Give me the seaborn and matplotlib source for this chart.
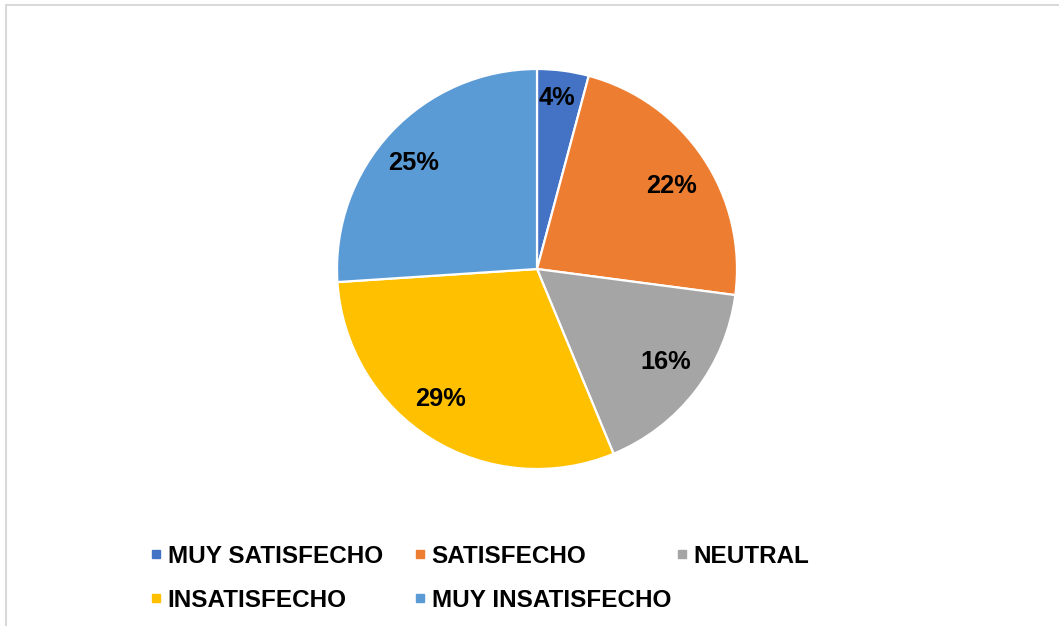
import numpy as np
import matplotlib
matplotlib.use("Agg")
import matplotlib.pyplot as plt
from matplotlib.lines import Line2D
import seaborn as sns

categories = ["MUY SATISFECHO", "SATISFECHO", "NEUTRAL", "INSATISFECHO", "MUY INSATISFECHO"]
percentages = [4, 22, 16, 29, 25]
colors = ["#4472C4", "#ED7D31", "#A5A5A5", "#FFC000", "#5B9BD5"]

sns.set_theme(style="white")
plt.rcParams["font.family"] = ["Liberation Sans", "DejaVu Sans"]
plt.rcParams["text.color"] = "black"

W, H = 1059, 626
fig = plt.figure(figsize=(W / 100, H / 100), dpi=100)
fig.patch.set_facecolor("white")

# pie area: centre (537, 269) px, radius 200 px
cx, cy, r = 537, 269, 200
ax = fig.add_axes([(cx - r) / W, (H - cy - r) / H, 2 * r / W, 2 * r / H])

wedges, _ = ax.pie(
    percentages,
    colors=colors,
    startangle=90,
    counterclock=False,
    radius=1.0,
    wedgeprops=dict(edgecolor="white", linewidth=1.6),
)
ax.set_xlim(-1, 1)
ax.set_ylim(-1, 1)
ax.set_aspect("equal")
ax.axis("off")

# percentage labels inside each slice (best-fit placement around mid-angle)
dists = [0.86, 0.79, 0.795, 0.81, 0.815]
shifts = [1.0, -2.0, 1.7, -4.5, 2.6]  # degrees, counter-clockwise
for w, p, d, s in zip(wedges, percentages, dists, shifts):
    ang = np.deg2rad((w.theta1 + w.theta2) / 2 + s)
    ax.text(d * np.cos(ang), d * np.sin(ang), f"{p}%",
            ha="center", va="center", fontsize=18.3, fontweight="bold", color="black")

# legend: one column per group of entries
handles = [Line2D([0], [0], marker="s", linestyle="none", markersize=5.8,
                  markerfacecolor=c, markeredgecolor=c) for c in colors]
columns = [[0, 3], [1, 4], [2]]
col_left = [152, 416, 678]
fs = 17.5
fs_px = fs * 100 / 72
for idx, x0 in zip(columns, col_left):
    leg = fig.legend([handles[i] for i in idx], [categories[i] for i in idx],
                     loc="upper left", bbox_to_anchor=(x0 / W, 1 - 545 / H),
                     frameon=False, prop=dict(size=fs, weight="bold"),
                     handlelength=8.5 / fs_px, handletextpad=7 / fs_px,
                     labelspacing=0.85, borderaxespad=0, borderpad=0)
    for t in leg.get_texts():
        t.set_color("black")

# chart frame (top and left edges)
fig.add_artist(Line2D([5.5 / W, 1], [1 - 4.5 / H, 1 - 4.5 / H], color="#d9d9d9", lw=1.5,
                      transform=fig.transFigure))
fig.add_artist(Line2D([5.5 / W, 5.5 / W], [0, 1 - 4.5 / H], color="#d9d9d9", lw=1.5,
                      transform=fig.transFigure))

fig.savefig("out.png", dpi=100, facecolor="white")
